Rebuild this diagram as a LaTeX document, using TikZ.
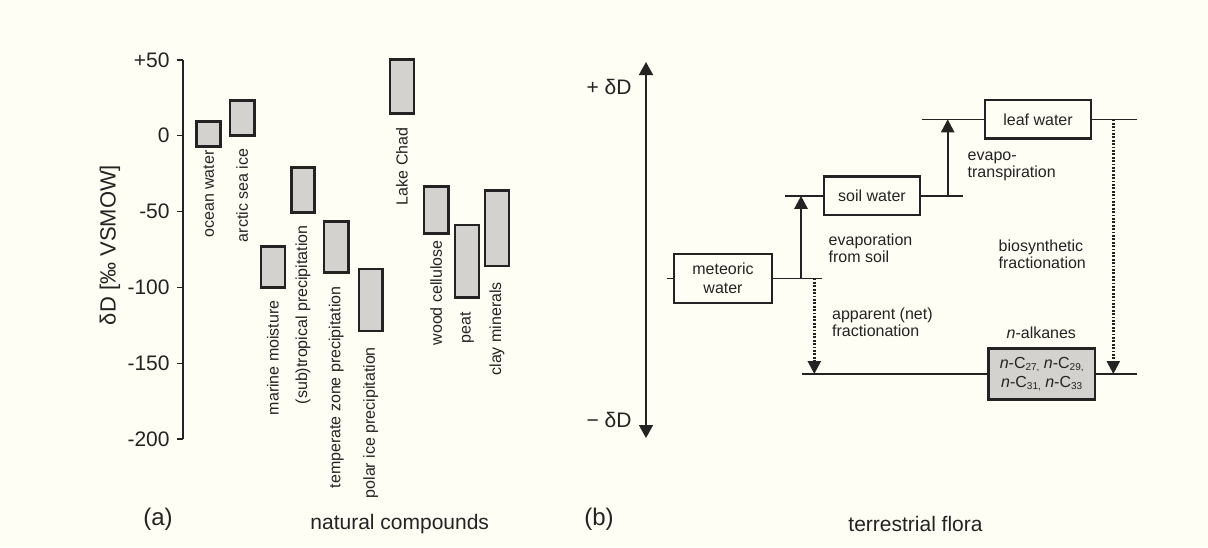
\documentclass[tikz,border=0pt]{standalone}
\usepackage{fontspec}
\setmainfont{Liberation Sans}
\usetikzlibrary{arrows.meta}
\definecolor{paper}{RGB}{254,254,244}
\definecolor{barfill}{RGB}{212,210,206}
\definecolor{ink}{RGB}{35,35,35}
\newcommand{\chainsub}[1]{\raisebox{-0.3ex}{\fontsize{5}{6}\selectfont #1}}
\tikzset{
  bar/.style={draw=ink, fill=barfill, line width=1.3pt},
  barlabel/.style={rotate=90, anchor=east, inner sep=0pt, font=\fontsize{8}{9}\selectfont},
  ticklabel/.style={anchor=east, inner sep=0pt, font=\fontsize{10.5}{12}\selectfont},
  level/.style={line width=0.75pt},
  pool/.style={draw=ink, line width=1.3pt, inner sep=0pt, align=center, font=\fontsize{8}{9.4}\selectfont},
  note/.style={anchor=west, align=left, inner sep=0pt, font=\fontsize{8}{8.6}\selectfont},
  rise/.style={line width=1.2pt, -{Triangle[width=6.5pt,length=6.5pt]}},
  dotrise/.style={rise, dash pattern=on 0.9pt off 0.8pt},
  caption/.style={anchor=west, inner sep=0pt, font=\fontsize{10.5}{12}\selectfont},
}
\begin{document}
\begin{tikzpicture}[x=0.5pt, y=-0.5pt, color=ink]
  \useasboundingbox (0,0) rectangle (1208,547);
  \fill[paper] (0,0) rectangle (1208,547);
  % (a) delta D axis
  \draw[level] (183,60) -- (183,439);
  \draw[level] (177,60) -- (183,60);
  \node[ticklabel] (tp50) at (170,60) {+50};
  \draw[level] (177,135.7) -- (183,135.7);
  \node[ticklabel] (t0) at (170,135.7) {0};
  \draw[level] (177,211.7) -- (183,211.7);
  \node[ticklabel] (tm50) at (170,211.7) {-50};
  \draw[level] (177,287.3) -- (183,287.3);
  \node[ticklabel] (tm100) at (170,287.3) {-100};
  \draw[level] (177,363.3) -- (183,363.3);
  \node[ticklabel] (tm150) at (170,363.3) {-150};
  \draw[level] (177,439) -- (183,439);
  \node[ticklabel] (tm200) at (170,439) {-200};
  \node[rotate=90, inner sep=0pt, font=\fontsize{11}{13}\selectfont] (ylab) at (110,245) {δD [‰ VSMOW]};
  % (a) ranges of natural compounds
  \draw[bar] (196.7,121.7) rectangle (220.7,146.7);
  \node[barlabel] (ocean) at (208.7,150) {ocean water};
  \draw[bar] (230,100.3) rectangle (254.3,135.7);
  \node[barlabel] (seaice) at (242.2,148.3) {arctic sea ice};
  \draw[bar] (261,246.7) rectangle (285,287.3);
  \node[barlabel] (marine) at (273,300) {marine moisture};
  \draw[bar] (291.7,167.7) rectangle (314.3,212.3);
  \node[barlabel] (subtrop) at (303,225) {(sub)tropical precipitation};
  \draw[bar] (324,221.7) rectangle (348.3,272.7);
  \node[barlabel] (temperate) at (336.2,286) {temperate zone precipitation};
  \draw[bar] (359,269) rectangle (382.7,331);
  \node[barlabel] (polar) at (370.8,346.7) {polar ice precipitation};
  \draw[bar] (390,59.3) rectangle (414,113.3);
  \node[barlabel] (chad) at (402,127.3) {Lake Chad};
  \draw[bar] (424,186.7) rectangle (448.3,233.3);
  \node[barlabel] (wood) at (436.2,240) {wood cellulose};
  \draw[bar] (455,225) rectangle (479,297.3);
  \node[barlabel] (peat) at (467,311.7) {peat};
  \draw[bar] (485,190.7) rectangle (509,266);
  \node[barlabel] (clay) at (497,281.7) {clay minerals};
  \node[caption, font=\fontsize{12}{14}\selectfont] (capa) at (143,519) {(a)};
  \node[caption] (natural) at (310,524) {natural compounds};
  % (b) delta D direction
  \coordinate (axtop) at (646,62);
  \coordinate (axbot) at (646,438);
  \draw[line width=0.85pt, {Triangle[width=7pt,length=6.5pt]}-{Triangle[width=7pt,length=6.5pt]}] (axbot) -- (axtop);
  \node[anchor=east, inner sep=0pt, font=\fontsize{10.5}{12}\selectfont] (plus) at (632,87) {+ δD};
  \node[anchor=east, inner sep=0pt, font=\fontsize{10.5}{12}\selectfont] (minus) at (632,420) {− δD};
  % (b) pools
  \node[pool, minimum width=49pt, minimum height=24.5pt] (meteoric) at (723,278.5) {meteoric\\water};
  \node[pool, minimum width=48pt, minimum height=19.25pt] (soil) at (872,195.8) {soil water};
  \node[pool, minimum width=53pt, minimum height=19.15pt] (leaf) at (1038,119.3) {leaf water};
  \node[pool, fill=barfill, minimum width=53.3pt, minimum height=25.3pt] (alkanes) at (1041.7,374)
    {\textit{n}-C\chainsub{27,} \textit{n}-C\chainsub{29,}\\\textit{n}-C\chainsub{31,} \textit{n}-C\chainsub{33}};
  \node[inner sep=0pt, font=\fontsize{8}{9}\selectfont] (alklab) at (1041.3,333) {\textit{n}-alkanes};
  % (b) levels
  \coordinate (metL) at (666.7,278.5);
  \coordinate (metR) at (821.7,278.5);
  \coordinate (soilL) at (785,195.8);
  \coordinate (soilR) at (963.3,195.8);
  \coordinate (leafL) at (922.3,119.3);
  \coordinate (leafR) at (1136.7,119.3);
  \coordinate (alkL) at (801.7,374);
  \coordinate (alkR) at (1136.7,374);
  \draw[level] (metL) -- (meteoric.west);
  \draw[level] (meteoric.east) -- (metR);
  \draw[level] (soilL) -- (soil.west);
  \draw[level] (soil.east) -- (soilR);
  \draw[level] (leafL) -- (leaf.west);
  \draw[level] (leaf.east) -- (leafR);
  \draw[level] (alkL) -- (alkanes.west);
  \draw[level] (alkanes.east) -- (alkR);
  % (b) fractionation steps
  \draw[rise] (801,278.5) coordinate (evapA) -- (801,195.8) coordinate (evapB);
  \draw[rise] (947.7,195.8) coordinate (transA) -- (947.7,119.3) coordinate (transB);
  \draw[dotrise] (1113.3,119.3) coordinate (bioA) -- (1113.3,374) coordinate (bioB);
  \draw[dotrise] (814.3,278.5) coordinate (netA) -- (814.3,374) coordinate (netB);
  \node[note] (evaplab) at (828.3,248.5) {evaporation\\from soil};
  \node[note] (translab) at (967.3,166.7) {evapo-\\transpiration};
  \node[note] (biolab) at (998.3,254.5) {biosynthetic\\fractionation};
  \node[note] (netlab) at (831.7,322.5) {apparent (net)\\fractionation};
  \node[caption, font=\fontsize{12}{14}\selectfont] (capb) at (584,519) {(b)};
  \node[caption] (flora) at (848,524) {terrestrial flora};
\end{tikzpicture}
\end{document}
